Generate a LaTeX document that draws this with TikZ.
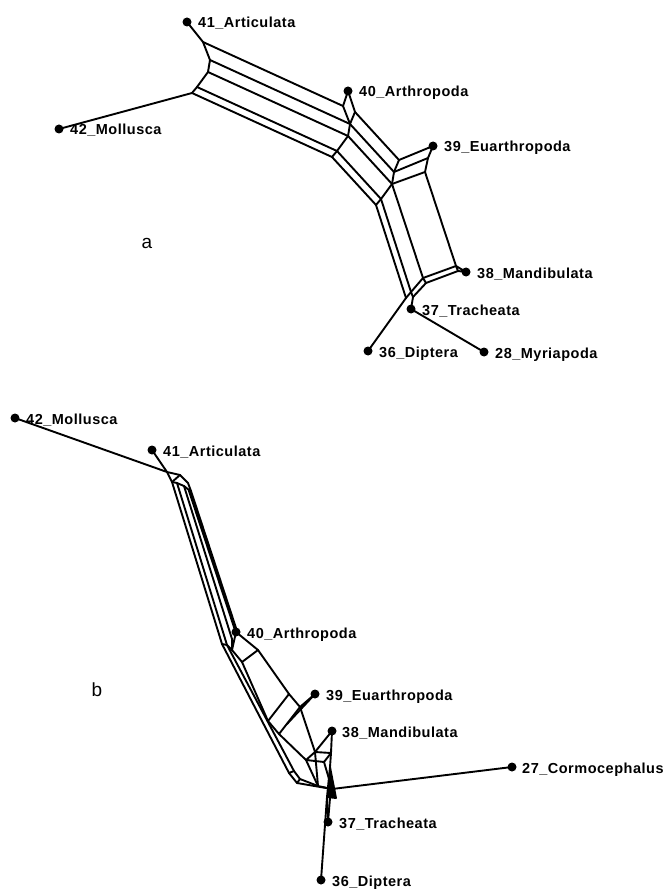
\documentclass[tikz,border=0pt]{standalone}
\usepackage{fontspec}
\setmainfont{Liberation Sans}
\newfontfamily\lblfont[LetterSpace=3.5]{Liberation Sans}
\begin{document}
\begin{tikzpicture}[x=1pt,y=-1pt,
  net/.style={line width=1.9pt, line join=round, line cap=round},
  leaf/.style={circle, fill=black, inner sep=0pt, minimum size=9pt},
  lbl/.style={anchor=base west, font=\lblfont\fontsize{14.5}{16}\selectfont\bfseries, inner sep=0pt},
  panel/.style={font=\fontsize{19}{22}\selectfont}]
\useasboundingbox (0,0) rectangle (667,890);

% ---------------- panel a ----------------
\node[panel] (pa) at (147,243) {a};
\node[leaf] (a41) at (187,22) {};
\node[leaf] (a42) at (59,129) {};
\node[leaf] (a40) at (348,91) {};
\node[leaf] (a39) at (433,146) {};
\node[leaf] (a38) at (466,272) {};
\node[leaf] (a37) at (411,309) {};
\node[leaf] (a36) at (368,351) {};
\node[leaf] (a28) at (484,352) {};
\node[lbl] at (198,28) {41\_Articulata};
\node[lbl] at (70,135) {42\_Mollusca};
\node[lbl] at (359,97) {40\_Arthropoda};
\node[lbl] at (444,152) {39\_Euarthropoda};
\node[lbl] at (477,278) {38\_Mandibulata};
\node[lbl] at (422,315) {37\_Tracheata};
\node[lbl] at (379,357) {36\_Diptera};
\node[lbl] at (495,358) {28\_Myriapoda};

\coordinate (A) at (203,42);
\coordinate (B) at (210,60);
\coordinate (B2) at (208,72);
\coordinate (E) at (197,87);
\coordinate (C) at (192,93);
\coordinate (RA) at (343,106);
\coordinate (RB) at (350,124);
\coordinate (RB2) at (348,136);
\coordinate (RE) at (337,151);
\coordinate (RC) at (332,157);
\coordinate (P2) at (355,112);
\coordinate (M0) at (399,160);
\coordinate (M1) at (394,172);
\coordinate (M2) at (392,184);
\coordinate (M3) at (381,199);
\coordinate (M4) at (376,205);
\coordinate (X2) at (428,158);
\coordinate (Y) at (425,172);
\coordinate (Q0) at (456,266);
\coordinate (Q1) at (423,278);
\coordinate (Q2) at (411,292);
\coordinate (Q3) at (406,298);
\coordinate (Q0b) at (458,271);
\coordinate (Q1b) at (426,283);
\coordinate (Q2b) at (413,297);

\begin{scope}[net]
\draw (a41.center) -- (A);
\draw (a42.center) -- (C);
\draw (A) -- (B) -- (B2) -- (E) -- (C);
\draw (RA) -- (RB) -- (RB2) -- (RE) -- (RC);
\draw (A) -- (RA) (B) -- (RB) (B2) -- (RB2) (E) -- (RE) (C) -- (RC);
\draw (a40.center) -- (RA) (a40.center) -- (P2) -- (RB);
\draw (P2) -- (M0) (RB) -- (M1) (RB2) -- (M2) (RE) -- (M3) (RC) -- (M4);
\draw (M0) -- (M1) -- (M2) -- (M3) -- (M4);
\draw (a39.center) -- (M0) (a39.center) -- (X2) -- (M1);
\draw (X2) -- (Y) -- (M2);
\draw (Y) -- (Q0) (M2) -- (Q1) (M3) -- (Q2) (M4) -- (Q3);
\draw (Q0) -- (Q1) -- (Q2) -- (Q3);
\draw (Q0b) -- (Q1b) -- (Q2b);
\draw (Q0) -- (Q0b) (Q1) -- (Q1b) (Q2) -- (Q2b);
\draw (a38.center) -- (Q0) (a38.center) -- (Q0b);
\draw (Q2b) -- (a37.center);
\draw (Q3) -- (a36.center);
\draw (a37.center) -- (a28.center);
\end{scope}

% ---------------- panel b ----------------
\node[panel] (pb) at (97,690) {b};
\node[leaf] (b42) at (15,418) {};
\node[leaf] (b41) at (152,450) {};
\node[leaf] (b40) at (236,632) {};
\node[leaf] (b39) at (315,694) {};
\node[leaf] (b38) at (332,731) {};
\node[leaf] (b27) at (512,767) {};
\node[leaf] (b37) at (328,822) {};
\node[leaf] (b36) at (321,880) {};
\node[lbl] at (26,424) {42\_Mollusca};
\node[lbl] at (163,456) {41\_Articulata};
\node[lbl] at (247,638) {40\_Arthropoda};
\node[lbl] at (326,700) {39\_Euarthropoda};
\node[lbl] at (342,737) {38\_Mandibulata};
\node[lbl] at (522,773) {27\_Cormocephalus};
\node[lbl] at (339,828) {37\_Tracheata};
\node[lbl] at (332,886) {36\_Diptera};

\coordinate (J0) at (167,472);
\coordinate (J1) at (180,475);
\coordinate (J2) at (188,483);
\coordinate (J3) at (191,491);
\coordinate (S1) at (172,482);
\coordinate (S2) at (177,483);
\coordinate (S3) at (184,486);
\coordinate (S4) at (189,490);
\coordinate (U1) at (222,644);
\coordinate (U2) at (227,645);
\coordinate (U3) at (232,639);
\coordinate (U4) at (238,634);
\coordinate (D1) at (258,650);
\coordinate (D2) at (242,662);
\coordinate (D3) at (232,650);
\coordinate (W1) at (289,773);
\coordinate (W2) at (294,771);
\coordinate (W3) at (297,783);
\coordinate (W4) at (300,779);
\coordinate (G1) at (268,721);
\coordinate (G2) at (289,694);
\coordinate (G3) at (300,707);
\coordinate (G4) at (279,734);
\coordinate (H) at (287,724);
\coordinate (K1) at (315,752);
\coordinate (K2) at (306,760);
\coordinate (K3) at (331,753);
\coordinate (K4) at (324,762);
\coordinate (V) at (332,789);
\coordinate (V1) at (318,786);
\coordinate (T1) at (330,767);
\coordinate (T2) at (327,797);
\coordinate (T3) at (336,798);

\begin{scope}[net]
\draw (b42.center) -- (J0);
\draw (b41.center) -- (J0);
\draw (J0) -- (J1) -- (J2) -- (J3);
\draw (J0) -- (S1) -- (S2) -- (S3) -- (S4) -- (J3);
\draw (S1) -- (J1);
\draw (S1) -- (U1) (S2) -- (U2) (S3) -- (U3);
\draw[line width=2.6pt] (S4) -- (b40.center);
\draw (J3) -- (U4);
\draw (U1) -- (U2) -- (D3) -- (D2);
\draw (U3) -- (D3);
\draw (b40.center) -- (D3) (b40.center) -- (D1) -- (D2);
\draw (U1) -- (W1) -- (W3) -- (V);
\draw (U2) -- (W2) -- (W4) -- (V1);
\draw (W1) -- (W2) (W3) -- (W4);
\draw (D2) -- (G1);
\draw (D1) -- (G2);
\draw (G1) -- (G2) -- (G3) -- (G4) -- cycle;
\draw (b39.center) -- (G3) (b39.center) -- (H);
\draw (G3) -- (K1) (G4) -- (K2);
\draw (K1) -- (K2) (K1) -- (K3) (K2) -- (K4) -- (K3);
\draw (b38.center) -- (K1) (b38.center) -- (K3);
\draw (K2) -- (V1) (K4) -- (V) (K3) -- (T1);
\draw (K1) -- (V1);
\draw (V1) -- (V);
\draw[fill=black] (T1) -- (T2) -- (T3) -- cycle;
\draw (V) -- (b27.center);
\draw (T2) -- (b37.center);
\draw (330,798) -- (b37.center);
\draw (T2) -- (b36.center);
\end{scope}
\end{tikzpicture}
\end{document}
